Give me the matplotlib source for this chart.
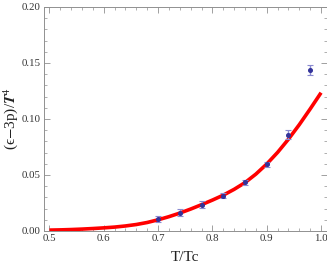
import matplotlib
matplotlib.use("Agg")
import matplotlib.pyplot as plt
from matplotlib.ticker import MultipleLocator

# data points (lattice)
t_pts = [0.70, 0.74, 0.78, 0.82, 0.86, 0.90, 0.94, 0.98]
y_pts = [0.0105, 0.0165, 0.0235, 0.0315, 0.0435, 0.0597, 0.0860, 0.1435]
y_err = [0.0025, 0.0030, 0.0030, 0.0022, 0.0020, 0.0022, 0.0040, 0.0045]

# fitted curve
t_curve = [0.50, 0.52, 0.54, 0.56, 0.58, 0.60, 0.62, 0.64, 0.66, 0.68,
           0.70, 0.72, 0.74, 0.76, 0.78, 0.80, 0.82, 0.84, 0.86, 0.88,
           0.90, 0.92, 0.94, 0.96, 0.98, 1.00]
y_curve = [0.0008, 0.0010, 0.0013, 0.0017, 0.0022, 0.0028, 0.0035, 0.0045, 0.0058, 0.0076,
           0.0100, 0.0128, 0.0160, 0.0196, 0.0235, 0.0276, 0.0320, 0.0372, 0.0432, 0.0508,
           0.0598, 0.0702, 0.0820, 0.0950, 0.1090, 0.1235]

x_ticks = [0.5, 0.6, 0.7, 0.8, 0.9, 1.0]
y_ticks = [0.00, 0.05, 0.10, 0.15, 0.20]

plt.rcParams['font.family'] = ['Liberation Serif', 'DejaVu Serif']
plt.rcParams['mathtext.fontset'] = 'stix'

W, H = 327, 273
fig = plt.figure(figsize=(W / 100, H / 100), dpi=100)
left, right, top, bottom = 44, 326.5, 7, 231
ax = fig.add_axes([left / W, 1 - bottom / H, (right - left) / W, (bottom - top) / H])

ax.plot(t_curve, y_curve, color='#ff0000', lw=2.6, solid_capstyle='butt', zorder=2)
ax.errorbar(t_pts, y_pts, yerr=y_err, fmt='o', ms=2.6, color='#33339a', mec='#33339a',
            ecolor='#8a8ad0', elinewidth=1.0, capsize=2, capthick=0.8, zorder=3)

ax.set_xlim(0.49, 1.01)
ax.set_ylim(0.0, 0.2)
ax.set_xticks(x_ticks)
ax.set_xticklabels([f"{v:.1f}" for v in x_ticks])
ax.set_yticks(y_ticks)
ax.set_yticklabels([f"{v:.2f}" for v in y_ticks])
ax.xaxis.set_minor_locator(MultipleLocator(0.02))
ax.yaxis.set_minor_locator(MultipleLocator(0.01))
ax.tick_params(which='both', direction='in', top=True, right=True, color='#909090',
               labelsize=7.8, labelcolor='#333333', pad=2.5)
ax.tick_params(which='major', length=4, width=0.6)
ax.tick_params(which='minor', length=2.2, width=0.5)
for s in ax.spines.values():
    s.set_color('#909090')
    s.set_linewidth(0.7)

ax.set_xlabel('T/Tc', fontsize=11, color='#222222')
ax.xaxis.set_label_coords(0.5, -0.088)
ax.set_ylabel(r'(ϵ$-$3p)/$\boldsymbol{T}^{4}$', fontsize=11, color='#222222')
ax.yaxis.set_label_coords(-0.086, 0.5)

fig.savefig('out.png', dpi=100)
